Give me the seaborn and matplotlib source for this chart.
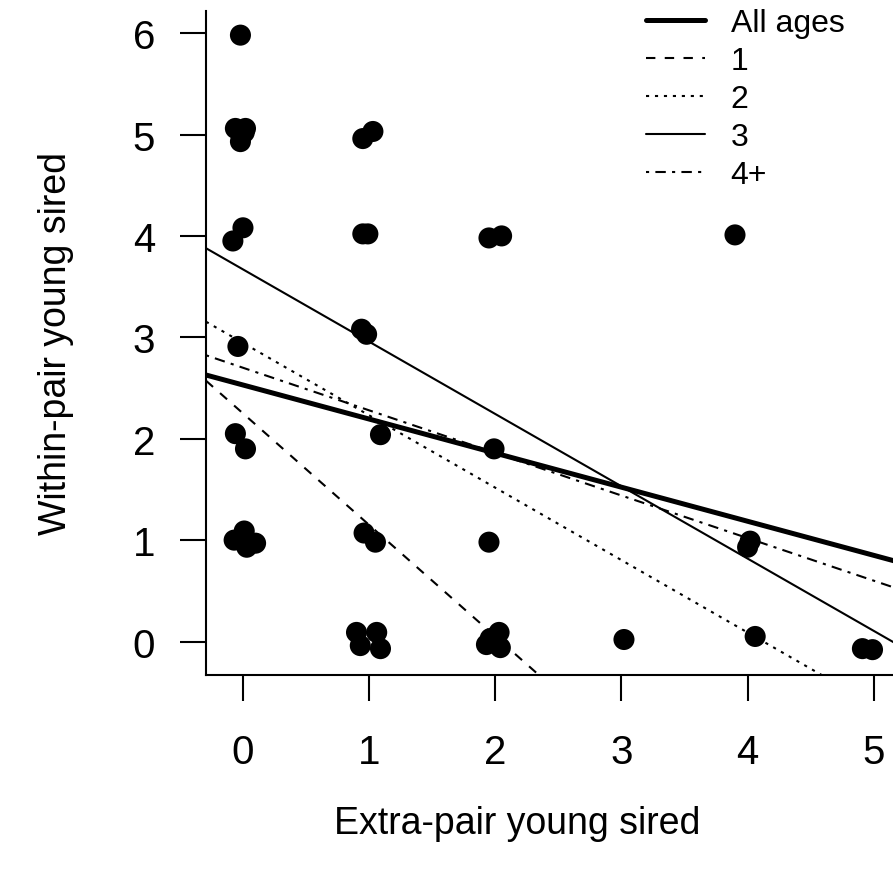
import numpy as np
import matplotlib
matplotlib.use("Agg")
import matplotlib.pyplot as plt
import pandas as pd
import seaborn as sns

# extra-pair young (x) and within-pair young (y), jittered as in the original
epy = [-0.02, -0.06, 0.02, -0.02, 0.01, -0.08, 0.0, -0.04, -0.06, 0.02,
       -0.07, 0.01, 0.03, 0.1,
       0.95, 1.03, 0.95, 0.99, 0.94, 0.98, 1.09, 0.96, 1.05,
       0.90, 0.93, 1.06, 1.09,
       1.95, 2.05, 1.99, 1.95, 1.93, 2.03, 2.04, 1.96,
       3.02, 3.90, 4.02, 4.00, 4.06, 4.91, 4.99]
wpy = [5.98, 5.06, 5.06, 4.93, 5.02, 3.95, 4.08, 2.91, 2.05, 1.90,
       1.00, 1.09, 0.93, 0.97,
       4.96, 5.03, 4.02, 4.02, 3.08, 3.03, 2.04, 1.07, 0.98,
       0.09, -0.04, 0.09, -0.07,
       3.98, 4.00, 1.90, 0.98, -0.03, 0.09, -0.06, 0.03,
       0.02, 4.01, 0.99, 0.93, 0.05, -0.07, -0.08]

# fitted lines: intercept and slope for each age class
labels = ["All ages", "1", "2", "3", "4+"]
intercepts = [2.53, 2.25, 2.945, 3.67, 2.70]
slopes = [-0.336, -1.10, -0.714, -0.713, -0.42]
widths = [3.6, 1.5, 1.5, 1.5, 1.5]
dashes = [None, (4.5, 4.5), (1.5, 2.8), None, (1.5, 3, 5, 3)]

df = pd.DataFrame({"epy": epy, "wpy": wpy})

sns.set_theme(style="ticks")
plt.rcParams["font.family"] = ["Liberation Sans", "DejaVu Sans"]
plt.rcParams["text.color"] = "black"

fig = plt.figure(figsize=(8.93, 8.78), dpi=100)
ax = fig.add_axes([206/893, 202/878, 693/893, 664.3/878])

sns.scatterplot(data=df, x="epy", y="wpy", ax=ax, color="black", s=230,
                edgecolor="none", linewidth=0, zorder=2)

for lab, a, b, w, d in zip(labels, intercepts, slopes, widths, dashes):
    ln = ax.axline((0, a), slope=b, color="black", lw=w, label=lab, zorder=3)
    if d is not None:
        ln.set_dashes(d)

ax.set_xlim(-0.293, 5.2)
ax.set_ylim(-0.330, 6.221)
ax.set_xticks(range(6))
ax.set_yticks(range(7))
sns.despine(ax=ax)
for s in ["left", "bottom"]:
    ax.spines[s].set_linewidth(1.5)
    ax.spines[s].set_color("black")
ax.tick_params(axis="both", direction="out", length=18.7, width=1.5,
               color="black", labelsize=29, labelcolor="black")
ax.tick_params(axis="x", pad=23)
ax.tick_params(axis="y", pad=18)

ax.set_xlabel("Extra-pair young sired", fontsize=27, color="black", va="center")
ax.set_ylabel("Within-pair young sired", fontsize=27, color="black", va="center")
# label centres: x title ~824 px down, y title ~56 px from the left edge
ax.xaxis.set_label_coords(0.449, (676 - 824) / 664.3)
ax.yaxis.set_label_coords((56 - 206) / 693, 0.50)

ax.legend(loc="upper left", bbox_to_anchor=(646/893, 1 - 9/878),
          bbox_transform=fig.transFigure, frameon=False, fontsize=23,
          handlelength=1.85, handletextpad=0.8, labelspacing=0.25,
          borderpad=0, borderaxespad=0, labelcolor="black")

fig.savefig("out.png", dpi=100)
